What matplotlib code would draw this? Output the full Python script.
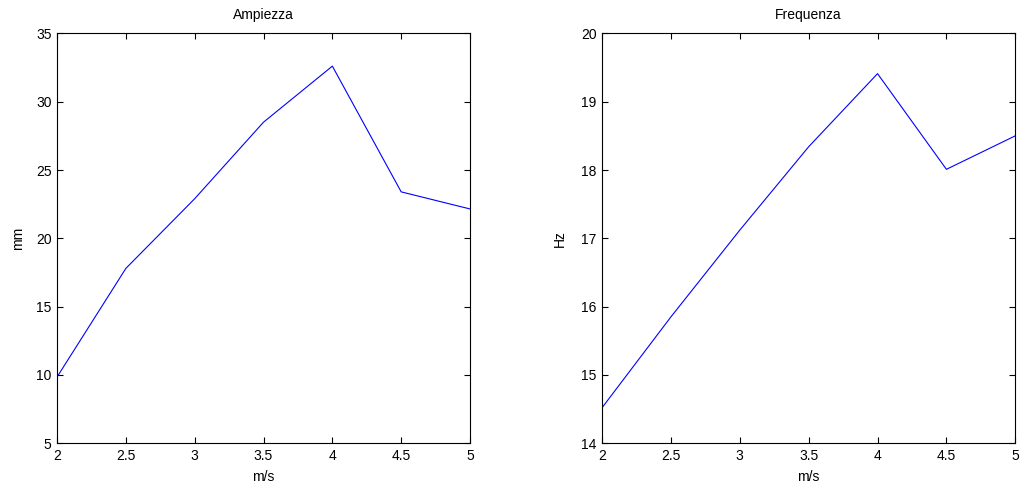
import matplotlib
matplotlib.use("Agg")
import matplotlib.pyplot as plt

plt.rcParams['font.family'] = ['Liberation Sans', 'DejaVu Sans']
plt.rcParams['font.size'] = 10

speed = [2, 2.5, 3, 3.5, 4, 4.5, 5]
ampiezza = [9.85, 17.8, 22.9, 28.5, 32.6, 23.4, 22.15]
frequenza = [14.52, 15.85, 17.12, 18.34, 19.41, 18.01, 18.5]

fig = plt.figure(figsize=(10.24, 4.86), dpi=100)
ax1 = fig.add_axes([0.0557, 0.0878, 0.4033, 0.8436])
ax2 = fig.add_axes([0.5879, 0.0878, 0.4036, 0.8436])

def style(ax):
    ax.tick_params(direction='in', top=True, right=True, length=4, width=0.8, pad=4)
    for s in ax.spines.values():
        s.set_linewidth(0.8)

ax1.plot(speed, ampiezza, color='blue', lw=0.8)
ax1.set_xlim(2, 5)
ax1.set_ylim(5, 35)
ax1.set_xticks([2, 2.5, 3, 3.5, 4, 4.5, 5])
ax1.set_xticklabels(['2', '2.5', '3', '3.5', '4', '4.5', '5'])
ax1.set_yticks(range(5, 36, 5))
ax1.set_title('Ampiezza', fontsize=10, pad=10)
ax1.set_xlabel('m/s', labelpad=5)
ax1.set_ylabel('mm', labelpad=8)
style(ax1)

ax2.plot(speed, frequenza, color='blue', lw=0.8)
ax2.set_xlim(2, 5)
ax2.set_ylim(14, 20)
ax2.set_xticks([2, 2.5, 3, 3.5, 4, 4.5, 5])
ax2.set_xticklabels(['2', '2.5', '3', '3.5', '4', '4.5', '5'])
ax2.set_yticks(range(14, 21))
ax2.set_title('Frequenza', fontsize=10, pad=10)
ax2.set_xlabel('m/s', labelpad=5)
ax2.set_ylabel('Hz', labelpad=10)
style(ax2)

fig.savefig('out.png', dpi=100)
